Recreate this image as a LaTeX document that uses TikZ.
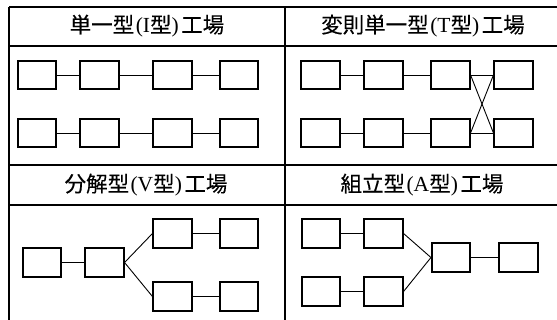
\documentclass[tikz,border=0pt]{standalone}
\usepackage{fontspec}
\setmainfont{Noto Sans CJK JP}[BoldFont={Noto Sans CJK JP},BoldFeatures={FakeBold=0.3}]
\newfontfamily\latinserif{Liberation Serif}[BoldFont={Liberation Serif}]
\newcommand\lp{\hspace{1.5pt}{\latinserif(}}
\newcommand\rp{{\latinserif)}\hspace{2.5pt}}
\begin{document}
\begin{tikzpicture}[x=1pt,y=-1pt,
  frame/.style={line width=1.4pt},
  proc/.style={draw,line width=1.6pt,minimum width=38.5pt,minimum height=28.5pt,inner sep=0pt},
  link/.style={line width=0.9pt},
  title/.style={font=\fontsize{21.5}{21.5}\selectfont\bfseries,inner sep=0pt}]
\useasboundingbox (0,0) rectangle (557,320);
% frame
\draw[frame] (9,7) -- (557,7);
\draw[frame] (9,46) -- (557,46);
\draw[frame] (9,165) -- (557,165);
\draw[frame] (9,205) -- (557,205);
\draw[frame] (9,7) -- (9,320);
\draw[frame] (285,7) -- (285,320);
% titles
\node[title] (t1) at (147,26) {単一型\lp{\latinserif I}型\rp 工場};
\node[title] (t2) at (423,26) {変則単一型\lp{\latinserif T}型\rp 工場};
\node[title] (t3) at (146,185) {分解型\lp{\latinserif V}型\rp 工場};
\node[title] (t4) at (422,185) {組立型\lp{\latinserif A}型\rp 工場};
% I type
\foreach \i/\x in {1/37,2/99.5,3/172.5,4/239}{
  \node[proc] (ia\i) at (\x,75) {};
  \node[proc] (ib\i) at (\x,133) {};
}
\draw[link] (ia1) -- (ia2) (ia2) -- (ia3) (ia3) -- (ia4);
\draw[link] (ib1) -- (ib2) (ib2) -- (ib3) (ib3) -- (ib4);
% T type
\foreach \i/\x in {1/320.5,2/383.5,3/450.5,4/513.5}{
  \node[proc] (ta\i) at (\x,75) {};
  \node[proc] (tb\i) at (\x,133) {};
}
\draw[link] (ta1) -- (ta2) (ta2) -- (ta3) (ta3) -- (ta4);
\draw[link] (tb1) -- (tb2) (tb2) -- (tb3) (tb3) -- (tb4);
\draw[link] (ta3.east) -- (tb4.west);
\draw[link] (tb3.east) -- (ta4.west);
% V type
\node[proc] (v1) at (42,262.5) {};
\node[proc] (v2) at (104.5,262.5) {};
\node[proc] (v3) at (172.5,233.5) {};
\node[proc] (v4) at (239,233.5) {};
\node[proc] (v5) at (172.5,296.5) {};
\node[proc] (v6) at (239,296.5) {};
\draw[link] (v1) -- (v2);
\draw[link] (v2.east) -- (v3.west);
\draw[link] (v2.east) -- (v5.west);
\draw[link] (v3) -- (v4);
\draw[link] (v5) -- (v6);
% A type
\node[proc] (a1) at (321,233.5) {};
\node[proc] (a2) at (383.5,233.5) {};
\node[proc] (a3) at (321,291.5) {};
\node[proc] (a4) at (383.5,291.5) {};
\node[proc] (a5) at (451,257.5) {};
\node[proc] (a6) at (518.5,257.5) {};
\draw[link] (a1) -- (a2);
\draw[link] (a3) -- (a4);
\draw[link] (a2.east) -- (a5.west);
\draw[link] (a4.east) -- (a5.west);
\draw[link] (a5) -- (a6);
\end{tikzpicture}
\end{document}
